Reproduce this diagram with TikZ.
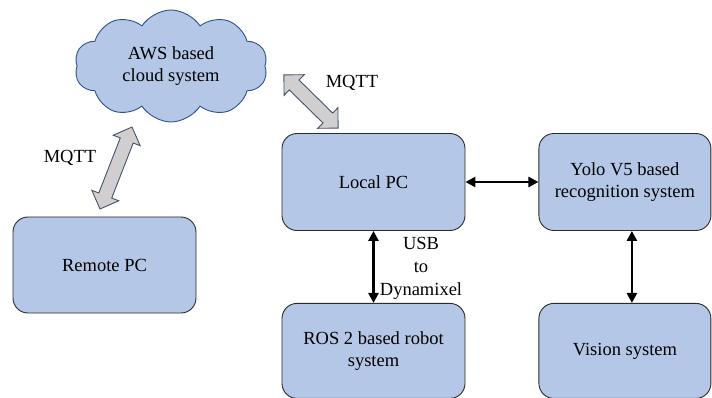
\documentclass[tikz,border=0pt]{standalone}
\usepackage{fontspec}
\setmainfont{Liberation Serif}
\usetikzlibrary{positioning,shapes.symbols,shapes.arrows,arrows.meta}
\definecolor{boxblue}{HTML}{B4C7E7}
\definecolor{boxline}{HTML}{2B2B2B}
\definecolor{cloudline}{HTML}{2F528F}
\definecolor{arrowgray}{HTML}{D0CECE}
\definecolor{arrowline}{HTML}{44546A}

\begin{document}
\begin{tikzpicture}[x=1pt,y=-1pt,
  textfont/.style={font=\fontsize{18.5}{22.5}\selectfont},
  block/.style={draw=boxline, fill=boxblue, rounded corners=15pt, line width=0.9pt,
    minimum width=183pt, minimum height=96pt, align=center, textfont},
  cloudnode/.style={cloud, cloud puffs=10, cloud puff arc=115, aspect=1.7,
    draw=cloudline, fill=boxblue, line width=0.9pt, inner sep=0pt,
    minimum width=193pt, minimum height=112pt, align=center, textfont},
  mqtt/.style={double arrow, draw=arrowline, fill=arrowgray, line width=0.9pt,
    double arrow head extend=7.5pt, double arrow tip angle=90, inner sep=6.5pt},
  link/.style={line width=2.5pt, {Triangle[length=10pt,width=10pt]}-{Triangle[length=10pt,width=10pt]}}]
\useasboundingbox (0,0) rectangle (712,398);

\node[cloudnode] (aws) at (171,66) {AWS based\\cloud system};
\node[block] (remote) at (104.5,265) {Remote PC};
\node[block, minimum height=97pt] (local) at (373.5,182) {Local PC};
\node[block, minimum width=172pt, minimum height=97pt, right=73pt of local] (yolo) {Yolo V5 based\\recognition system};
\node[block, minimum height=95pt, below=72pt of local] (ros) {ROS 2 based robot\\system};
\node[block, minimum width=172pt, minimum height=95pt, below=72pt of yolo] (vision) {Vision system};

% MQTT links
\coordinate (m1a) at (100,209);
\coordinate (m1b) at (132,127);
\coordinate (m2a) at (284,75);
\coordinate (m2b) at (338,128);
\path (m1a) -- node[mqtt, sloped, minimum height=88pt] (mqttleft) {} (m1b);
\path (m2a) -- node[mqtt, sloped, minimum height=76pt] (mqttright) {} (m2b);
\node[textfont] (mqttlabel1) at (70,158) {MQTT};
\node[textfont] (mqttlabel2) at (352,83) {MQTT};

% wired links
\draw[link] (local.east) -- (yolo.west);
\draw[link] (local.south) -- (ros.north);
\draw[link] ([xshift=7pt]yolo.south) -- ([xshift=7pt]vision.north);
\node[font=\fontsize{18.5}{23}\selectfont, align=center] (usb) at (421,268) {USB\\to\\Dynamixel};
\end{tikzpicture}
\end{document}
